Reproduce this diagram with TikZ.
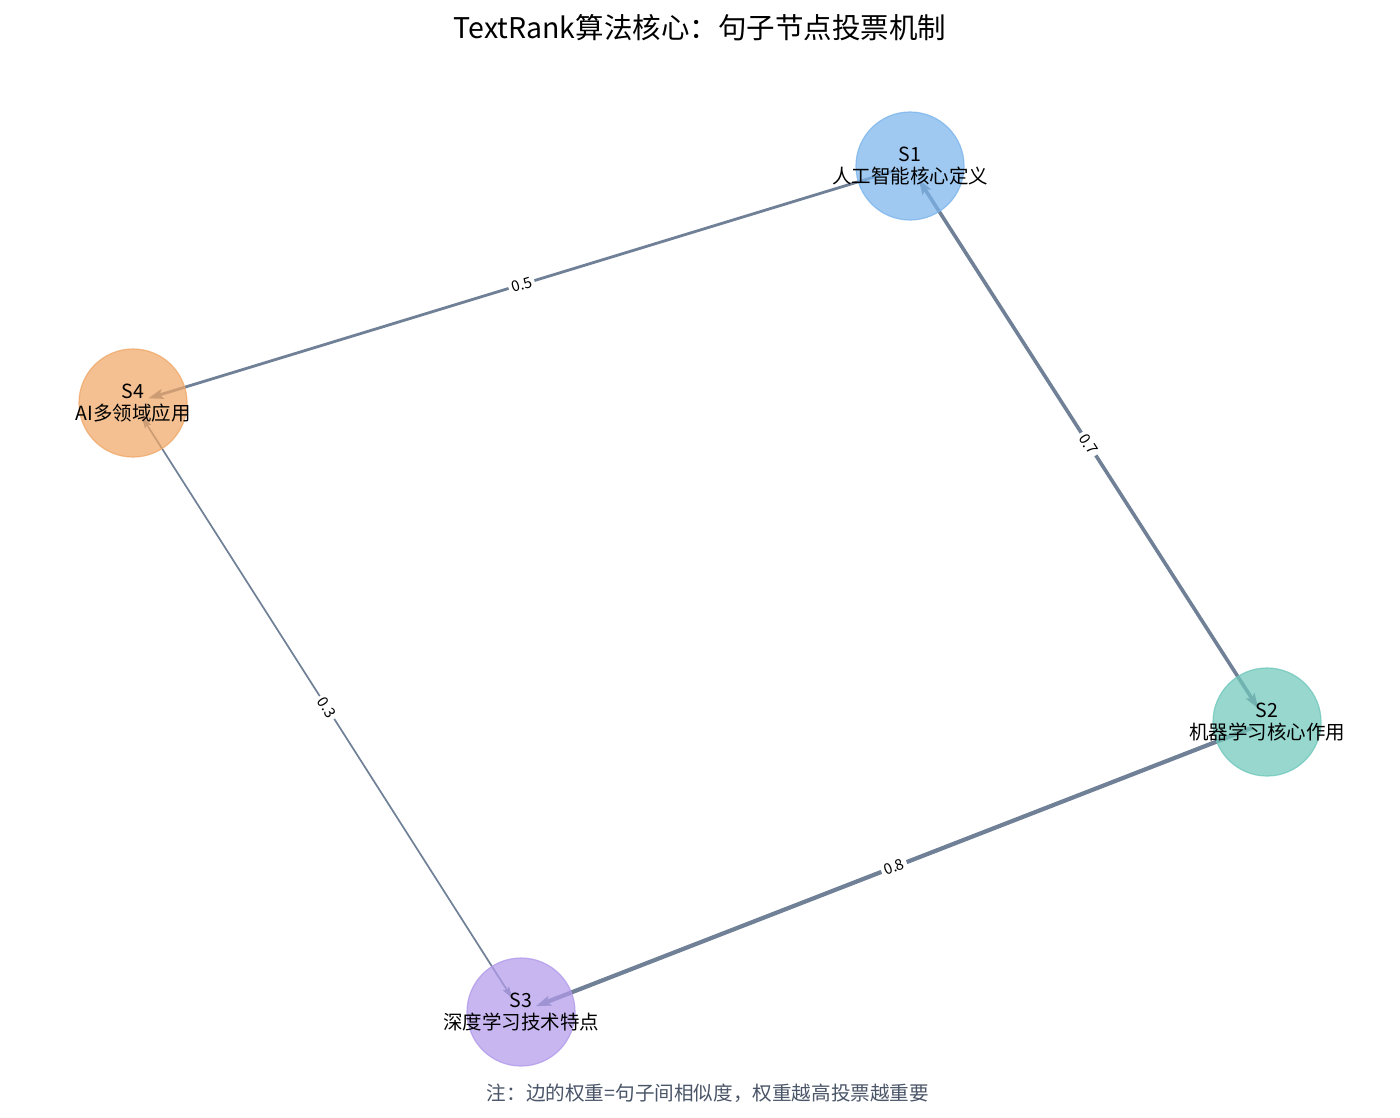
\documentclass[tikz,border=0pt]{standalone}
\usepackage{fontspec}
\setmainfont{Noto Sans CJK SC}
\usetikzlibrary{arrows.meta}
\pgfdeclarelayer{edgelayer}
\pgfsetlayers{edgelayer,main}
\definecolor{edgec}{RGB}{112,128,150}
\definecolor{cA}{RGB}{124,181,236}
\definecolor{cB}{RGB}{112,200,188}
\definecolor{cC}{RGB}{178,155,235}
\definecolor{cD}{RGB}{240,168,104}
\definecolor{notec}{RGB}{74,85,104}
\tikzset{
  sent/.style={circle, minimum size=108pt, inner sep=0pt, fill opacity=0.72, draw opacity=0.8, line width=1.2pt},
  lbl/.style={align=center, font=\fontsize{19.5}{21.5}\selectfont, text=black, text opacity=1, fill opacity=1, inner sep=0pt},
  edgeline/.style={draw=edgec, shorten <=16pt, shorten >=16pt},
  tipbig/.style={-{Stealth[length=15pt,width=10pt,inset=3pt]}},
  tipsmall/.style={{Stealth[length=12pt,width=7pt,inset=2pt]}-{Stealth[length=12pt,width=7pt,inset=2pt]}},
  tipboth/.style={{Stealth[length=15pt,width=10pt,inset=3pt]}-{Stealth[length=15pt,width=10pt,inset=3pt]}},
  wlbl/.style={sloped, fill=white, inner sep=3pt, text=black, font=\fontsize{15}{17}\selectfont},
}
\begin{document}
\begin{tikzpicture}[x=1pt,y=-1pt]
\useasboundingbox (0,0) rectangle (1400,1117);
\node[font=\fontsize{28.5}{32}\selectfont] (title) at (700,28) {TextRank算法核心：句子节点投票机制};
\node[sent, fill=cA, draw=cA, label={[lbl]center:S1\\人工智能核心定义}] (s1) at (910,166) {};
\node[sent, fill=cB, draw=cB, label={[lbl]center:S2\\机器学习核心作用}] (s2) at (1267,722) {};
\node[sent, fill=cC, draw=cC, label={[lbl]center:S3\\深度学习技术特点}] (s3) at (521,1012) {};
\node[sent, fill=cD, draw=cD, label={[lbl]center:S4\\AI多领域应用}] (s4) at (133,403) {};
\node[text=notec, font=\fontsize{19.6}{22}\selectfont] (note) at (708,1093) {注：边的权重=句子间相似度，权重越高投票越重要};
\begin{pgfonlayer}{edgelayer}
\fill[white] (0,0) rectangle (1400,1117);
\draw[edgeline, line width=2.8pt, tipbig] (s1.center) -- node[wlbl] (w14) {0.5} (s4.center);
\draw[edgeline, line width=3.6pt, tipboth] (s1.center) -- node[wlbl] (w12) {0.7} (s2.center);
\draw[edgeline, line width=4.2pt, tipbig] (s2.center) -- node[wlbl] (w23) {0.8} (s3.center);
\draw[edgeline, line width=1.7pt, tipsmall] (s4.center) -- node[wlbl] (w43) {0.3} (s3.center);
\end{pgfonlayer}
\end{tikzpicture}
\end{document}
